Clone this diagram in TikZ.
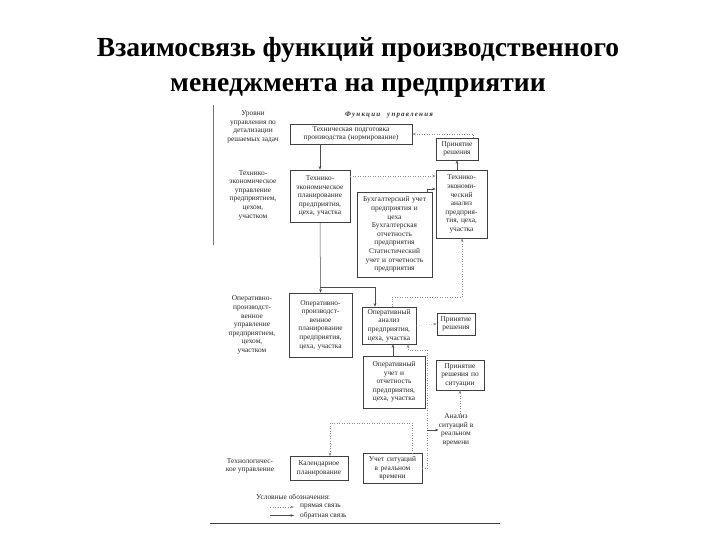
\documentclass[tikz,border=0pt]{standalone}
\usepackage{fontspec}
\setmainfont{Liberation Serif}
\usetikzlibrary{arrows.meta,calc}
\begin{document}
\begin{tikzpicture}[x=1pt,y=-1pt,
  txt/.style={font=\fontsize{7.4}{8.6}\selectfont,align=center,text=black!85,inner sep=0pt},
  bx/.style 2 args={draw=black!75,line width=0.6pt,txt,minimum width=#1,minimum height=#2,text width=#1-2pt},
  arr/.style={draw=black!70,line width=0.5pt,-{Stealth[length=3.5pt,width=2.6pt]}},
  fb/.style={draw=black!45,line width=0.5pt,dotted,-{Stealth[length=3.5pt,width=2.6pt]}},
  lbl/.style={txt}
]
\useasboundingbox (0,0) rectangle (720,540);
% title
\node[font=\fontsize{27.6}{35}\selectfont\bfseries,align=center,inner sep=0pt] (title) at (358,67)
  {Взаимосвязь функций производственного\\менеджмента на предприятии};
% frame lines
\draw[black!55,line width=0.5pt] (213,105) -- (213,245);
\draw[black!75,line width=0.7pt] (210,523) -- (500,523);
% header
\node[font=\fontsize{7}{8}\selectfont\itshape\bfseries,inner sep=0pt,text=black!80] (head) at (389,115)
  {Ф\,у\,н\,к\,ц\,и\,и\quad у\,п\,р\,а\,в\,л\,е\,н\,и\,я};
% left labels
\node[lbl] (l0) at (253,127) {Уровни\\управления по\\детализации\\решаемых задач};
\node[lbl] (l1) at (253,195) {Технико-\\экономическое\\управление\\предприятием,\\цехом,\\участком};
\node[lbl] (l2) at (252,325) {Оперативно-\\производст-\\венное\\управление\\предприятием,\\цехом,\\участком};
\node[lbl] (l3) at (250,466) {Технологичес-\\кое управление};
% boxes
\node[bx={122pt}{20pt}] (b1) at (351,134) {Техническая подготовка\\производства (нормирование)};
\node[bx={42pt}{22pt}] (b2) at (457,149) {Принятие\\решения};
\node[bx={60pt}{52pt}] (b3) at (320,196) {Технико-\\экономическое\\планирование\\предприятия,\\цеха, участка};
\node[bx={75pt}{85pt}] (b4) at (394.5,234.5) {Бухгалтерский учет\\предприятия и\\цеха\\Бухгалтерская\\отчетность\\предприятия\\Статистический\\учет и отчетность\\предприятия};
\node[bx={51pt}{68pt}] (b5) at (461.5,204) {Технико-\\экономи-\\ческий\\анализ\\предприя-\\тия, цеха,\\участка};
\node[bx={63pt}{64pt}] (b6) at (320.5,325) {Оперативно-\\производст-\\венное\\планирование\\предприятия,\\цеха, участка};
\node[bx={54pt}{37pt}] (b7) at (389,325.5) {Оперативный\\анализ\\предприятия,\\цеха, участка};
\node[bx={38pt}{22pt}] (b8) at (456,324) {Принятие\\решения};
\node[bx={62pt}{52pt}] (b9) at (394,382) {Оперативный\\учет и\\отчетность\\предприятия,\\цеха, участка};
\node[bx={48pt}{30pt}] (b10) at (460,375) {Принятие\\решения по\\ситуации};
\node[lbl] (an) at (456,430) {Анализ\\ситуаций в\\реальном\\времени};
\node[bx={58pt}{24pt}] (b12) at (319,468.5) {Календарное\\планирование};
\node[bx={59pt}{30pt}] (b13) at (392.5,468.5) {Учет ситуаций\\в реальном\\времени};
% connectors
\coordinate (j1) at (320,287);
\draw[arr] (b1.south -| b3.north) -- (b3.north);
\draw[arr] (b3.south) -- (b6.north);
\draw[arr] (j1) -| (b7.north -| 375,0);
\draw[fb] (b3.east |- 0,176) -- (b5.west |- 0,176);
\draw[arr] ([xshift=-5pt]b4.north east) |- (b5.west |- 0,189);
\draw[arr] (b2.south |- b5.north) -- (b2.south);
\draw[fb] ([xshift=-5pt]b2.north east) |- (b1.east);
\draw[fb] (b7.north -| 392,0) -- (392,297) -| (b5.south -| 462,0);
\draw[fb] (b7.east) -- (b8.west);
\draw[arr] (b9.north -| 393,0) -- (b7.south -| 393,0);
\draw[fb] (b13.east) -- (427,468.5) -- (427,350) -- (408,350) -- (b7.south -| 408,0);
\draw[arr] (427,430) -- (an.west);
\draw[fb] (an.north -| b10.south) -- (b10.south);
\draw[fb] (b13.north -| 412,0) -- (412,423) -- (330,423) -- (b12.north -| 330,0);
% legend
\node[font=\fontsize{7.4}{8}\selectfont,anchor=west,inner sep=0pt,text=black!85] (lg) at (256,497) {Условные обозначения:};
\coordinate (la1) at (270,507);
\coordinate (lb1) at (294,507);
\coordinate (la2) at (270,515.5);
\coordinate (lb2) at (294,515.5);
\draw[fb] (la1) -- (lb1);
\draw[arr] (la2) -- (lb2);
\node[txt,anchor=west] (lt1) at (300,507) {прямая связь};
\node[txt,anchor=west] (lt2) at (300,515.5) {обратная связь};
\end{tikzpicture}
\end{document}
